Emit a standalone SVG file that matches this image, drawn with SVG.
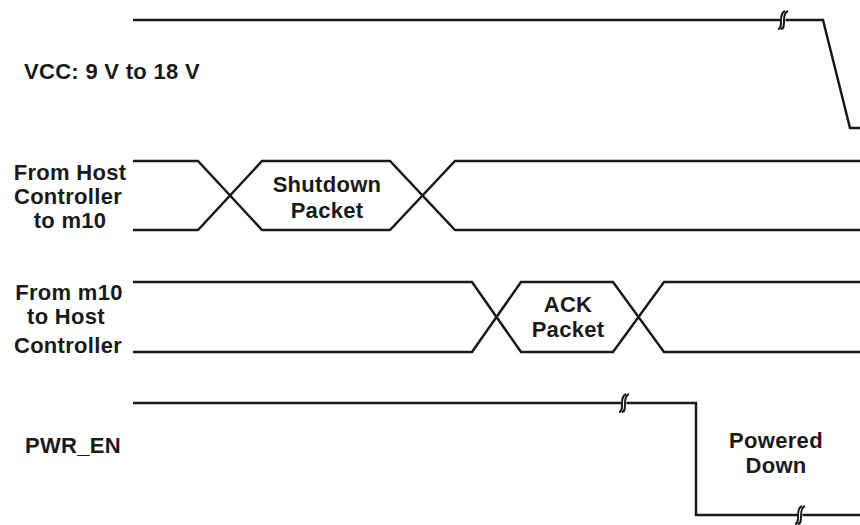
<svg xmlns="http://www.w3.org/2000/svg" width="860" height="525" viewBox="0 0 860 525">
<style>
.sig{fill:none;stroke:#1a1a1a;stroke-width:2.5;stroke-linejoin:miter}
.brk{fill:none;stroke:#1a1a1a;stroke-width:2}
.gap{fill:#fff;stroke:none}
text{font-family:"Liberation Sans",Arial,sans-serif;font-weight:bold;font-size:22px;letter-spacing:0.3px;fill:#1a1a1a}
.m{text-anchor:middle}
</style>
<defs>
<g id="brk">
<rect class="gap" x="-2.5" y="-3" width="5" height="6"/>
<path class="brk" d="M-5,9 C-2,9 -2,5 -2,1 C-2,-4 -1,-8 2,-9"/>
<path class="brk" d="M-2,9 C1,9 1,5 1,1 C1,-4 2,-8 5,-9"/>
</g>
</defs>
<rect width="860" height="525" fill="#fff"/>
<g id="labels">
<text x="24" y="79">VCC: 9 V to 18 V</text>
<text class="m" x="70" y="180">From Host</text>
<text class="m" x="68" y="204">Controller</text>
<text class="m" x="70" y="228">to m10</text>
<text class="m" x="69" y="300">From m10</text>
<text class="m" x="66" y="324">to Host</text>
<text class="m" x="68" y="353">Controller</text>
<text x="25" y="453">PWR_EN</text>
</g>
<g id="vcc">
<path class="sig" d="M133,20 H823 L850,128 H860"/>
<use href="#brk" x="783" y="20"/>
</g>
<g id="host">
<path class="sig" d="M133,161 H198 L262,230 H390 L455,161 H860"/>
<path class="sig" d="M133,230 H198 L262,161 H390 L455,230 H860"/>
<text class="m" x="327" y="192">Shutdown</text>
<text class="m" x="327" y="218">Packet</text>
</g>
<g id="ack">
<path class="sig" d="M133,282 H472 L521,352 H613 L664,282 H860"/>
<path class="sig" d="M133,352 H472 L521,282 H613 L664,352 H860"/>
<text class="m" x="568" y="312">ACK</text>
<text class="m" x="568" y="337">Packet</text>
</g>
<g id="pwr">
<path class="sig" d="M133,403 H696 V515 H860"/>
<use href="#brk" x="624" y="403"/>
<use href="#brk" x="800" y="515"/>
<text class="m" x="776" y="448">Powered</text>
<text class="m" x="776" y="473">Down</text>
</g>
</svg>
